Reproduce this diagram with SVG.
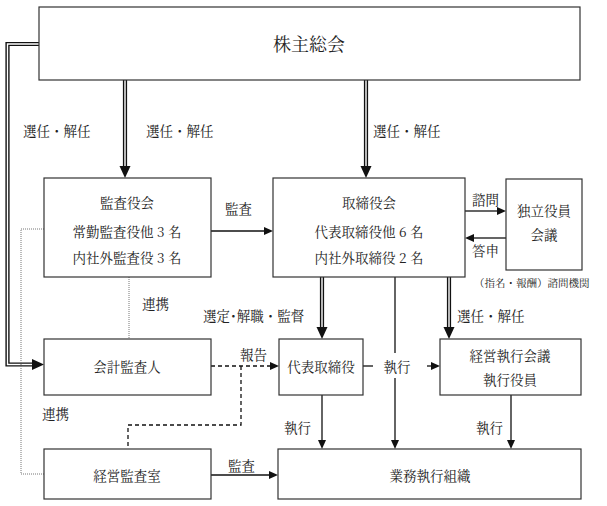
<svg xmlns="http://www.w3.org/2000/svg" width="607" height="506" viewBox="0 0 607 506">
<style>
text{font-family:"Noto Serif CJK JP","Noto Sans CJK JP",sans-serif;font-size:13.5px;fill:#222;dominant-baseline:central}
.c{text-anchor:middle}
.big{font-size:18px}
.sm{font-size:10.5px}
.box{fill:#fff;stroke:#333;stroke-width:1.2}
.ln{fill:none;stroke:#111;stroke-width:1.3}
.dbl{fill:none;stroke:#111;stroke-width:4.2;stroke-linejoin:miter}
.dblin{fill:none;stroke:#fff;stroke-width:1.4;stroke-linejoin:miter}
.dash{fill:none;stroke:#111;stroke-width:1.3;stroke-dasharray:4 3}
.dot{fill:none;stroke:#777;stroke-width:1;stroke-dasharray:1 1}
</style>
<defs>
<marker id="ab" markerUnits="userSpaceOnUse" markerWidth="12" markerHeight="12" refX="0" refY="6" orient="auto"><path d="M0,0.5 L12,6 L0,11.5 z" fill="#111"/></marker>
<marker id="as" markerUnits="userSpaceOnUse" markerWidth="9" markerHeight="8" refX="0" refY="4" orient="auto"><path d="M0,0 L9,4 L0,8 z" fill="#111"/></marker>
</defs>
<g id="connectors">
<path class="dbl" d="M40,44 H7.5 V364.5 H32" marker-end="url(#ab)"/>
<path class="dblin" d="M40,44 H7.5 V364.5 H32"/>
<path class="dbl" d="M125,80 V166" marker-end="url(#ab)"/>
<path class="dblin" d="M125,80 V166"/>
<path class="dbl" d="M366,80 V166" marker-end="url(#ab)"/>
<path class="dblin" d="M366,80 V166"/>
<path class="dbl" d="M322,277 V327" marker-end="url(#ab)"/>
<path class="dblin" d="M322,277 V327"/>
<path class="dbl" d="M449,277 V327" marker-end="url(#ab)"/>
<path class="dblin" d="M449,277 V327"/>
<path class="ln" d="M211,231 H264" marker-end="url(#as)"/>
<path class="ln" d="M465,211 H497" marker-end="url(#as)"/>
<path class="ln" d="M506,238 H474" marker-end="url(#as)"/>
<path class="dash" d="M211,366 H270" marker-end="url(#as)"/>
<path class="dash" d="M241,366 V425 H128 V449"/>
<path class="dot" d="M129,277 V339"/>
<path class="dot" d="M44,229 H21 V474 H44"/>
<path class="ln" d="M363,366 H373"/>
<path class="ln" d="M427,366 H431" marker-end="url(#as)"/>
<path class="ln" d="M395,277 V353"/>
<path class="ln" d="M395,378 V440" marker-end="url(#as)"/>
<path class="ln" d="M322,395 V440" marker-end="url(#as)"/>
<path class="ln" d="M511,395 V440" marker-end="url(#as)"/>
<path class="ln" d="M211,475 H269" marker-end="url(#as)"/>
<text x="23" y="130">選任・解任</text>
<text x="146" y="130">選任・解任</text>
<text x="373" y="130">選任・解任</text>
<text x="225" y="208">監査</text>
<text x="472" y="199">諮問</text>
<text x="472" y="250">答申</text>
<text x="142" y="303">連携</text>
<text x="203" y="315">選定･解職・監督</text>
<text x="457" y="315">選任・解任</text>
<text x="240" y="354">報告</text>
<text class="c" x="397" y="366">執行</text>
<text x="42" y="413">連携</text>
<text x="284" y="427">執行</text>
<text x="476" y="427">執行</text>
<text x="228" y="465">監査</text>
</g>
<g id="shareholders"><rect class="box" x="39" y="7" width="541" height="73"/><text class="c big" x="309" y="43">株主総会</text></g>
<g id="audit-board"><rect class="box" x="44" y="178" width="167" height="99"/><text class="c" x="127" y="202">監査役会</text><text class="c" x="127" y="231">常勤監査役他 3 名</text><text class="c" x="127" y="257">内社外監査役 3 名</text></g>
<g id="board"><rect class="box" x="273" y="178" width="192" height="99"/><text class="c" x="369" y="202">取締役会</text><text class="c" x="369" y="231">代表取締役他 6 名</text><text class="c" x="369" y="257">内社外取締役 2 名</text></g>
<g id="independent"><rect class="box" x="506" y="179" width="76" height="91"/><text class="c" x="544" y="210">独立役員</text><text class="c" x="544" y="234">会議</text><text class="sm" x="474" y="282">（指名・報酬）諮問機関</text></g>
<g id="accounting-auditor"><rect class="box" x="44" y="339" width="167" height="56"/><text class="c" x="127" y="366">会計監査人</text></g>
<g id="representative"><rect class="box" x="279" y="339" width="84" height="56"/><text class="c" x="321" y="366">代表取締役</text></g>
<g id="executive-meeting"><rect class="box" x="440" y="339" width="141" height="56"/><text class="c" x="510" y="355">経営執行会議</text><text class="c" x="510" y="379">執行役員</text></g>
<g id="internal-audit"><rect class="box" x="44" y="449" width="167" height="50"/><text class="c" x="127" y="475">経営監査室</text></g>
<g id="operations"><rect class="box" x="278" y="449" width="303" height="50"/><text class="c" x="430" y="475">業務執行組織</text></g>
</svg>
